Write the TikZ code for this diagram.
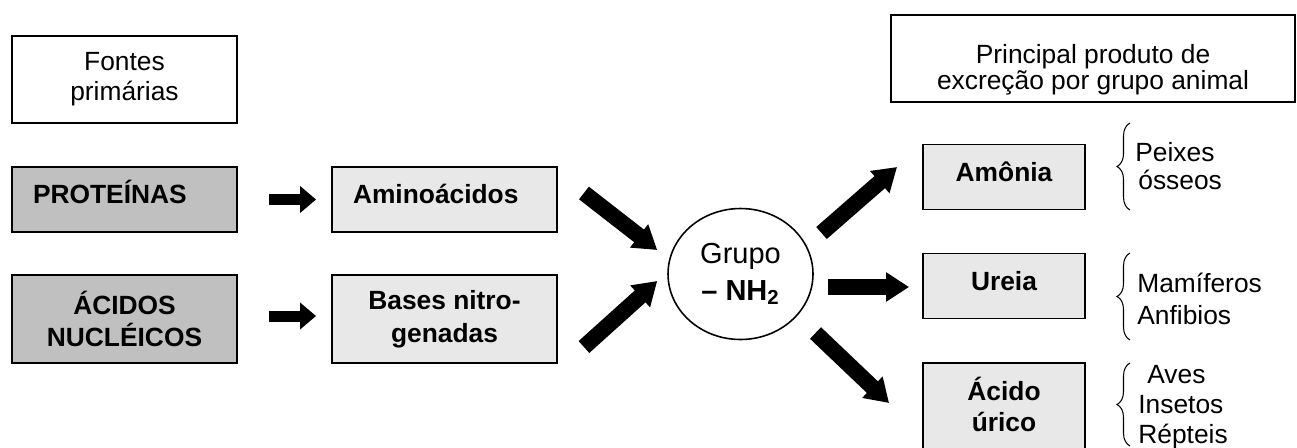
\documentclass[tikz,border=0pt]{standalone}
\usepackage{fontspec}
\setmainfont{Liberation Sans}
\usetikzlibrary{shapes, calc, arrows.meta, decorations.pathreplacing}
\definecolor{boxdark}{RGB}{192,192,192}
\definecolor{boxlight}{RGB}{232,232,232}
\tikzset{
	myboxtitle/.style={rectangle, draw=black, line width=1.1pt, fill=white, text centered, align=center,
				minimum width=4.5cm, minimum height=1.74cm, font=\fontsize{15}{17}\selectfont
				},
	myboxdark/.style={rectangle, draw=black, line width=1.1pt, fill=boxdark, text centered, align=center,
				minimum width=4.5cm, minimum height=1.3cm, font=\fontsize{15}{18.5}\selectfont\bfseries
				},
	myboxlight/.style={myboxdark, fill=boxlight
				},
	myboxleft/.style={text width=3.66cm, inner xsep=0.42cm, align=left, text height=0.4cm, text depth=0.26cm
				},
	myboxright/.style={minimum width=3.24cm, minimum height=1.3cm, font=\fontsize{15}{17.5}\selectfont\bfseries
				},
	mysingle/.style={text height=0.42cm, text depth=0.26cm
				},
	mygroup/.style={ellipse, draw=black, line width=0.9pt, minimum width=2.9cm, minimum height=2.62cm,
				inner sep=0mm, align=center, font=\fontsize{16.5}{21}\selectfont
				},
	mylist/.style={anchor=west, inner sep=0mm, align=left, font=\fontsize{15}{17}\selectfont
				},
	mybrace/.style={decorate, decoration={brace, amplitude=0.26cm}, line width=0.6pt
				},
	myarrowsmall/.style={-{Triangle[length=0.32cm, width=0.52cm]}, line width=0.22cm
				},
	myarrowbig/.style={-{Triangle[length=0.46cm, width=0.56cm]}, line width=0.32cm
				}
	}

\begin{document}
\begin{tikzpicture}[x=0.02cm, y=-0.02cm]

				\useasboundingbox (0,0) rectangle (1297,447);
				\clip (0,0) rectangle (1297,447);

				\node[myboxtitle] (fontes) at (124.5, 79.5) {Fontes\\primárias};
				\node[myboxtitle, minimum width=8.08cm, font=\fontsize{15}{15}\selectfont] (produto) at (1093, 58.5)
				{\rule{0pt}{0.82cm}Principal produto de\\excreção por grupo animal};

				\node[myboxdark, myboxleft] (proteinas) at (124.5, 199.5) {PROTEÍNAS};
				\node[myboxdark, minimum height=1.76cm] (acidos) at (124.5, 319) {ÁCIDOS\\NUCLÉICOS};

				\node[myboxlight, myboxleft] (aminoacidos) at (444.5, 199.5) {Aminoácidos};
				\node[myboxlight, minimum height=1.76cm] (bases) at (444.5, 319) {Bases nitro-\\genadas};

				\node[mygroup] (grupo) at (740.5, 274) {Grupo\\\textbf{– NH\textsubscript{2}}};

				\node[myboxlight, myboxright, mysingle] (amonia) at (1004, 177) {Amônia};
				\node[myboxlight, myboxright, mysingle] (ureia) at (1004, 286) {Ureia};
				\node[myboxlight, myboxright, anchor=north, inner ysep=0.28cm] (acidourico) at (1004, 362)
				{Ácido\\úrico\\\rule{0pt}{0.6cm}};

				\node[mylist, font=\fontsize{15}{15.5}\selectfont] (peixes) at (1135, 166) {Peixes\\\hspace*{0.06cm}ósseos};
				\node[mylist, font=\fontsize{15}{18.5}\selectfont] (mamiferos) at (1137, 299) {Mamíferos\\Anfibios};
				\node[mylist] (aves) at (1138, 407.5) {\hspace*{0.18cm}Aves\\Insetos\\Répteis};

				\draw[mybrace] ($(peixes.west)+(-5,44)$) -- ($(peixes.west)+(-5,-43)$);
				\draw[mybrace] ($(mamiferos.west)+(-7,41)$) -- ($(mamiferos.west)+(-7,-46)$);
				\draw[mybrace] ($(aves.west)+(-8,38.5)$) -- ($(aves.west)+(-8,-44.5)$);

				\draw[myarrowsmall] ($(proteinas.east)+(31,0)$) -- ($(aminoacidos.west)+(-15,0)$);
				\draw[myarrowsmall] ($(acidos.east)+(31,-3)$) -- ($(bases.west)+(-15,-3)$);

				\draw[myarrowbig] ($(aminoacidos.east)+(26,-6.5)$) -- ($(grupo.west)+(-10,-24)$);
				\draw[myarrowbig] ($(bases.east)+(26,28)$) -- ($(grupo.west)+(-10,7)$);

				\draw[myarrowbig] ($(grupo.center)+(81,-41)$) -- ($(amonia.west)+(-25,-10)$);
				\draw[myarrowbig] ($(grupo.east)+(14,13)$) -- ($(ureia.west)+(-13,1)$);
				\draw[myarrowbig] ($(grupo.center)+(75,59)$) -- ($(acidourico.north west)+(-33,41)$);

\end{tikzpicture}
\end{document}
